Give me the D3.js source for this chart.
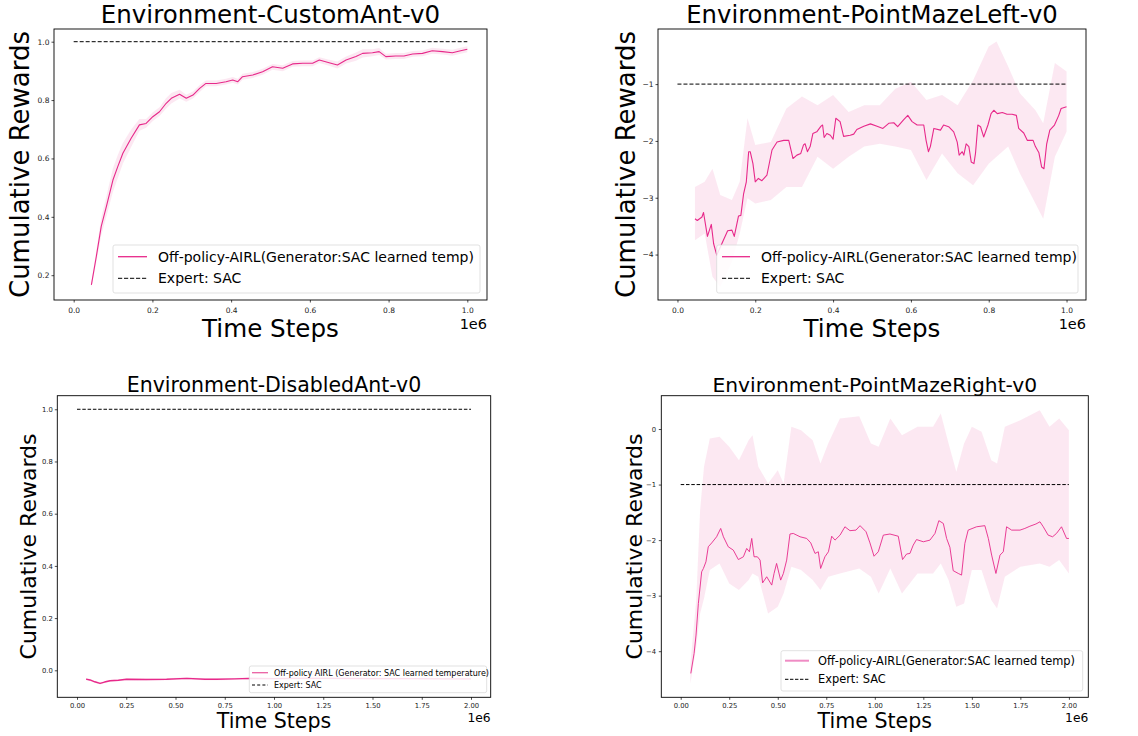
<!DOCTYPE html>
<html><head><meta charset="utf-8">
<script src="https://cdn.jsdelivr.net/npm/d3@7"></script>
<style>html,body{margin:0;padding:0;background:#fff}svg{display:block}text{font-family:"DejaVu Sans",sans-serif}</style>
</head><body><svg id="c" width="1138" height="736"></svg>
<script>
// ---------- data ----------
const titles = ["Environment-CustomAnt-v0","Environment-PointMazeLeft-v0","Environment-DisabledAnt-v0","Environment-PointMazeRight-v0"];
const legendLabelsShort = ["Off-policy-AIRL(Generator:SAC learned temp)","Expert: SAC"];
const legendLabelsLong = ["Off-policy AIRL (Generator: SAC learned temperature)","Expert: SAC"];
const xTicks1M = [0,0.2,0.4,0.6,0.8,1.0];
const xTicks2M = [0,0.25,0.5,0.75,1.0,1.25,1.5,1.75,2.0];
const yTicksAnt = [0.2,0.4,0.6,0.8,1.0];
const yTicksDis = [0.0,0.2,0.4,0.6,0.8,1.0];
const yTicksLeft = [-4,-3,-2,-1];
const yTicksRight = [-4,-3,-2,-1,0];
const expertAnt = 1.0, expertDis = 1.0, expertLeft = -1.0, expertRight = -1.0;

// CustomAnt (x in 1e6)
const antX = [0.045,0.0575,0.070,0.083,0.0997,0.112,0.125,0.146,0.167,0.184,0.201,0.218,0.235,0.248,0.269,0.286,0.303,0.320,0.336,0.362,0.387,0.404,0.417,0.429,0.455,0.480,0.505,0.531,0.556,0.582,0.607,0.624,0.649,0.670,0.692,0.717,0.734,0.759,0.776,0.793,0.818,0.839,0.861,0.886,0.911,0.937,0.962,0.983,1.0];
const antY = [0.167,0.264,0.367,0.435,0.526,0.572,0.618,0.669,0.715,0.720,0.743,0.760,0.789,0.806,0.820,0.806,0.817,0.840,0.857,0.857,0.863,0.869,0.863,0.880,0.886,0.897,0.914,0.909,0.924,0.926,0.926,0.937,0.928,0.920,0.937,0.949,0.960,0.962,0.966,0.949,0.951,0.951,0.958,0.960,0.969,0.966,0.962,0.969,0.974];
const antStd = [0.01,0.02,0.03,0.035,0.04,0.04,0.035,0.03,0.02,0.015,0.015,0.015,0.018,0.018,0.015,0.012,0.012,0.012,0.01,0.01,0.01,0.01,0.01,0.01,0.01,0.01,0.01,0.01,0.01,0.01,0.01,0.01,0.01,0.012,0.012,0.014,0.014,0.012,0.012,0.01,0.01,0.01,0.01,0.01,0.01,0.01,0.01,0.01,0.01];

// PointMazeLeft mean
const leftX = [0.045,0.051,0.063,0.067,0.077,0.087,0.093,0.101,0.110,0.118,0.129,0.140,0.146,0.157,0.163,0.170,0.177,0.183,0.187,0.194,0.200,0.208,0.217,0.230,0.243,0.256,0.273,0.286,0.297,0.307,0.317,0.324,0.328,0.334,0.341,0.348,0.358,0.369,0.373,0.377,0.384,0.393,0.400,0.407,0.418,0.427,0.444,0.453,0.461,0.479,0.496,0.513,0.528,0.543,0.556,0.566,0.581,0.592,0.603,0.616,0.633,0.639,0.645,0.650,0.659,0.676,0.684,0.697,0.710,0.719,0.724,0.732,0.736,0.742,0.749,0.755,0.762,0.766,0.772,0.779,0.787,0.798,0.806,0.813,0.822,0.835,0.847,0.860,0.871,0.877,0.890,0.899,0.914,0.920,0.929,0.936,0.942,0.949,0.957,0.969,0.980,0.986,1.0];
const leftY = [-3.37,-3.40,-3.34,-3.26,-3.68,-3.47,-3.81,-4.01,-3.87,-3.75,-3.58,-3.57,-3.68,-3.32,-3.31,-2.93,-2.72,-2.19,-2.19,-2.40,-2.72,-2.66,-2.70,-2.60,-2.16,-2.02,-1.99,-1.99,-2.31,-2.25,-2.22,-2.07,-2.05,-2.19,-2.10,-1.87,-1.84,-1.74,-1.72,-1.94,-1.87,-1.90,-1.97,-1.60,-1.66,-1.92,-1.90,-1.88,-1.80,-1.74,-1.70,-1.74,-1.78,-1.69,-1.68,-1.75,-1.63,-1.55,-1.66,-1.72,-1.72,-1.99,-2.19,-2.10,-1.78,-1.81,-1.72,-1.75,-1.84,-2.02,-2.25,-2.19,-2.25,-2.05,-2.10,-2.37,-2.40,-2.22,-1.72,-1.75,-1.93,-1.72,-1.52,-1.46,-1.52,-1.50,-1.53,-1.53,-1.55,-1.78,-1.86,-1.99,-1.99,-2.10,-2.21,-2.46,-2.49,-2.05,-1.81,-1.72,-1.55,-1.43,-1.40];
// PointMazeLeft band
const leftBandX = [0.045,0.07,0.09,0.11,0.14,0.16,0.18,0.20,0.24,0.28,0.32,0.36,0.40,0.44,0.48,0.52,0.56,0.60,0.64,0.68,0.72,0.76,0.80,0.82,0.85,0.88,0.92,0.94,0.97,1.0];
const leftUpper = [-2.81,-2.72,-2.49,-2.95,-3.04,-2.72,-1.60,-2.07,-2.02,-1.43,-1.22,-1.37,-1.19,-1.49,-1.37,-1.37,-1.08,-0.96,-1.28,-1.19,-1.37,-0.93,-0.34,-0.25,-0.69,-1.16,-1.46,-1.69,-0.63,-0.78];
const leftLower = [-3.75,-3.63,-4.39,-4.57,-4.13,-3.63,-3.01,-3.10,-3.04,-2.81,-2.81,-2.28,-2.49,-2.28,-2.10,-2.05,-2.10,-2.16,-2.69,-2.22,-2.57,-2.78,-2.40,-2.28,-2.10,-2.57,-3.10,-3.37,-2.28,-1.84];

// DisabledAnt
const disX = [0.046,0.066,0.090,0.117,0.140,0.168,0.210,0.252,0.350,0.455,0.557,0.650,0.709,0.800,0.878,1.0,1.1,1.3,1.5,1.7,1.9,2.0];
const disY = [-0.034,-0.037,-0.044,-0.050,-0.045,-0.040,-0.038,-0.034,-0.035,-0.034,-0.031,-0.034,-0.034,-0.033,-0.031,-0.032,-0.031,-0.031,-0.032,-0.032,-0.033,-0.033];
const disStd = [0.004,0.004,0.004,0.004,0.004,0.004,0.004,0.004,0.004,0.004,0.004,0.004,0.004,0.004,0.004,0.004,0.004,0.004,0.004,0.004,0.004,0.004];

// PointMazeRight mean
const rightX = [0.052,0.069,0.079,0.091,0.108,0.117,0.130,0.142,0.160,0.185,0.206,0.220,0.245,0.271,0.297,0.323,0.340,0.354,0.366,0.378,0.395,0.409,0.422,0.443,0.469,0.481,0.494,0.515,0.529,0.546,0.563,0.580,0.615,0.649,0.670,0.692,0.709,0.721,0.743,0.761,0.778,0.795,0.821,0.846,0.872,0.903,0.924,0.955,0.975,0.996,1.018,1.044,1.078,1.121,1.143,1.164,1.181,1.198,1.215,1.250,1.284,1.310,1.330,1.353,1.370,1.387,1.404,1.430,1.447,1.464,1.481,1.524,1.567,1.585,1.602,1.624,1.645,1.662,1.679,1.705,1.748,1.773,1.799,1.830,1.851,1.868,1.893,1.916,1.936,1.962,1.988,2.0];
const rightY = [-4.40,-4.04,-3.71,-3.14,-2.57,-2.51,-2.39,-2.12,-2.05,-1.94,-1.79,-1.94,-2.12,-2.18,-2.35,-2.30,-2.15,-2.21,-1.97,-2.30,-2.30,-2.36,-2.77,-2.66,-2.81,-2.60,-2.42,-2.72,-2.60,-2.36,-1.89,-1.88,-1.94,-1.97,-2.05,-2.24,-2.21,-2.51,-2.30,-2.21,-1.93,-2.00,-1.91,-1.76,-1.83,-1.82,-1.74,-1.85,-2.05,-2.29,-2.21,-1.91,-1.89,-1.93,-2.35,-2.25,-2.24,-2.09,-1.99,-2.03,-2.00,-1.88,-1.65,-1.70,-1.97,-2.13,-2.55,-2.60,-2.63,-2.06,-1.82,-1.76,-1.74,-1.97,-2.27,-2.60,-2.27,-2.21,-1.76,-1.82,-1.82,-1.79,-1.75,-1.71,-1.67,-1.76,-1.91,-1.94,-1.88,-1.76,-1.97,-1.97];
// PointMazeRight band
const rightBandX = [0.05,0.08,0.10,0.12,0.15,0.20,0.25,0.30,0.35,0.37,0.40,0.45,0.50,0.53,0.57,0.62,0.68,0.72,0.76,0.82,0.92,0.98,1.02,1.08,1.14,1.22,1.30,1.34,1.38,1.42,1.46,1.50,1.55,1.60,1.63,1.67,1.75,1.85,1.90,1.95,2.0];
const rightUpper = [-4.22,-3.08,-1.46,-0.68,-0.17,-0.14,-0.32,-0.56,-0.20,-0.11,-0.68,-0.98,-0.74,-0.98,0.04,-0.02,-0.20,-0.62,-0.26,0.19,0.23,-0.26,-0.32,0.19,-0.11,0.04,0.04,0.28,-0.26,-0.77,-0.26,0.04,-0.05,-0.56,-0.62,0.04,0.16,0.34,0.04,0.19,-0.02];
const rightLower = [-4.58,-3.92,-3.32,-3.05,-2.54,-2.42,-2.78,-2.90,-2.72,-2.60,-2.66,-3.32,-3.20,-2.96,-2.48,-2.54,-2.72,-2.90,-2.66,-2.60,-2.51,-2.66,-2.96,-2.51,-2.96,-2.60,-2.60,-2.42,-2.72,-3.20,-3.14,-2.54,-2.54,-3.08,-3.23,-2.66,-2.48,-2.42,-2.48,-2.36,-2.60];

// ---------- drawing ----------
const PINK = "#e7298a";
const svg = d3.select("#c");
const minus = s => s.replace("-", "\u2212");

function band(xs, lo, hi){ return xs.map((x,i)=>({x, lo:lo[i], hi:hi[i]})); }

const panels = [
  {title:titles[0], box:[54,487,29,300], xd:[-0.05,1.05], yd:[0.115,1.0435], xt:xTicks1M, yt:yTicksAnt,
   xf:d3.format(".1f"), yf:d3.format(".1f"), mean:antX.map((x,i)=>({x,y:antY[i]})),
   band:band(antX, antY.map((v,i)=>v-antStd[i]), antY.map((v,i)=>v+antStd[i])), expert:expertAnt, xmax:1.0,
   titleSize:24.5, titleY:23, ylabSize:26, ylabX:29, xlabSize:24.6, xlabY:337, offSize:14.5, offY:329,
   tickSize:7.5, xpad:5, ypad:2, lw:1.1, dash:"4,2",
   leg:{x0:113,x1:480,y0:245,y1:293, s0:118,s1:147, r1:256.7, r2:278.3, tx:158, fs:14, labels:legendLabelsShort, lineColor:PINK, dash:"4.2,1.8"}},
  {title:titles[1], box:[658,1086,29,300], xd:[-0.05,1.05], yd:[-4.8,-0.03], xt:xTicks1M, yt:yTicksLeft,
   xf:d3.format(".1f"), yf:v=>minus(d3.format("d")(v)), mean:leftX.map((x,i)=>({x,y:leftY[i]})),
   band:band(leftBandX,leftLower,leftUpper), expert:expertLeft, xmax:1.0,
   titleSize:24.3, titleY:23, ylabSize:26, ylabX:635, xlabSize:24.6, xlabY:337, offSize:14.5, offY:329,
   tickSize:7.5, xpad:5, ypad:2, lw:1.1, dash:"4,2",
   leg:{x0:716.7,x1:1078,y0:245,y1:293, s0:722,s1:750, r1:256.7, r2:278.3, tx:761, fs:14, labels:legendLabelsShort, lineColor:PINK, dash:"4.2,1.8"}},
  {title:titles[2], box:[57.3,490.7,395.7,697.3], xd:[-0.1,2.1], yd:[-0.1034,1.052], xt:xTicks2M, yt:yTicksDis,
   xf:d3.format(".2f"), yf:d3.format(".1f"), mean:disX.map((x,i)=>({x,y:disY[i]})),
   band:band(disX, disY.map((v,i)=>v-disStd[i]), disY.map((v,i)=>v+disStd[i])), expert:expertDis, xmax:2.0,
   titleSize:20.5, titleY:391.5, ylabSize:22, ylabX:36, xlabSize:20.6, xlabY:727.5, offSize:12.3, offY:721.7,
   tickSize:6.8, xpad:3, ypad:2, lw:1.4, dash:"3.5,1.8",
   leg:{x0:249.3,x1:486.7,y0:666,y1:692.7, s0:252,s1:268, r1:672.7, r2:685, tx:274, fs:8, labels:legendLabelsLong, lineColor:"#ea5fa3", dash:"3,2.2"}},
  {title:titles[3], box:[661.3,1088.3,395.7,697.3], xd:[-0.1,2.1], yd:[-4.83,0.6], xt:xTicks2M, yt:yTicksRight,
   xf:d3.format(".2f"), yf:v=>minus(d3.format("d")(v)), mean:rightX.map((x,i)=>({x,y:rightY[i]})),
   band:band(rightBandX,rightLower,rightUpper), expert:expertRight, xmax:2.0,
   titleSize:20.25, titleY:391.5, ylabSize:22, ylabX:641.7, xlabSize:20.6, xlabY:728, offSize:12.3, offY:721.7,
   tickSize:6.8, xpad:3, ypad:2.8, lw:0.9, dash:"3.5,1.8",
   leg:{x0:781,x1:1082.7,y0:650.7,y1:691, s0:785,s1:809, r1:660.7, r2:679.3, tx:818, fs:11.4, labels:legendLabelsShort, lineColor:"#ef8cc4", dash:"3.4,1.6"}}
];

panels.forEach((p, k) => {
  const [L,R,T,B] = p.box;
  const x = d3.scaleLinear().domain(p.xd).range([L,R]);
  const y = d3.scaleLinear().domain(p.yd).range([B,T]);
  const g = svg.append("g");
  const cid = "clip"+k;
  svg.append("defs").append("clipPath").attr("id",cid).append("rect")
    .attr("x",L).attr("y",T).attr("width",R-L).attr("height",B-T);
  const plot = g.append("g").attr("clip-path",`url(#${cid})`);

  plot.append("path").datum(p.band)
    .attr("d", d3.area().x(d=>x(d.x)).y0(d=>y(d.lo)).y1(d=>y(d.hi)).curve(d3.curveLinear))
    .attr("fill", PINK).attr("fill-opacity", 0.11).attr("stroke","none");
  plot.append("path").datum(p.mean)
    .attr("d", d3.line().x(d=>x(d.x)).y(d=>y(d.y)))
    .attr("fill","none").attr("stroke",PINK).attr("stroke-width",p.lw).attr("stroke-linejoin","round");
  plot.append("line").attr("x1",x(0)).attr("x2",x(p.xmax)).attr("y1",y(p.expert)).attr("y2",y(p.expert))
    .attr("stroke","#000").attr("stroke-width",1).attr("stroke-dasharray",p.dash);

  // axes
  const ax = g.append("g").attr("transform",`translate(0,${B})`)
    .call(d3.axisBottom(x).tickValues(p.xt).tickFormat(p.xf).tickSize(2.5).tickPadding(p.xpad));
  const ay = g.append("g").attr("transform",`translate(${L},0)`)
    .call(d3.axisLeft(y).tickValues(p.yt).tickFormat(p.yf).tickSize(2.5).tickPadding(p.ypad));
  [ax,ay].forEach(a=>{
    a.select(".domain").remove();
    a.selectAll("line").attr("stroke","#000").attr("stroke-width",0.7);
    a.selectAll("text").attr("font-size",p.tickSize).attr("fill","#222").attr("font-family","DejaVu Sans");
  });
  g.append("rect").attr("x",L).attr("y",T).attr("width",R-L).attr("height",B-T)
    .attr("fill","none").attr("stroke","#000").attr("stroke-width",0.9);

  // titles and labels
  const cx = (L+R)/2, cy = (T+B)/2;
  g.append("text").attr("x",cx).attr("y",p.titleY).attr("text-anchor","middle")
    .attr("font-size",p.titleSize).text(p.title);
  g.append("text").attr("transform",`translate(${p.ylabX},${cy}) rotate(-90)`).attr("text-anchor","middle")
    .attr("font-size",p.ylabSize).text("Cumulative Rewards");
  g.append("text").attr("x",cx).attr("y",p.xlabY).attr("text-anchor","middle")
    .attr("font-size",p.xlabSize).text("Time Steps");
  g.append("text").attr("x",R).attr("y",p.offY).attr("text-anchor","end")
    .attr("font-size",p.offSize).text("1e6");

  // legend
  const lg = p.leg;
  const lgg = g.append("g");
  lgg.append("rect").attr("x",lg.x0).attr("y",lg.y0).attr("width",lg.x1-lg.x0).attr("height",lg.y1-lg.y0)
    .attr("rx",2).attr("fill","#fff").attr("fill-opacity",0.85).attr("stroke","#d9d9d9").attr("stroke-width",0.8);
  lgg.append("line").attr("x1",lg.s0).attr("x2",lg.s1).attr("y1",lg.r1).attr("y2",lg.r1)
    .attr("stroke",lg.lineColor).attr("stroke-width",k===3?2:1.3);
  lgg.append("line").attr("x1",lg.s0).attr("x2",lg.s1).attr("y1",lg.r2).attr("y2",lg.r2)
    .attr("stroke","#000").attr("stroke-width",1).attr("stroke-dasharray",lg.dash);
  lgg.append("text").attr("x",lg.tx).attr("y",lg.r1).attr("dy","0.36em").attr("font-size",lg.fs).text(lg.labels[0]);
  lgg.append("text").attr("x",lg.tx).attr("y",lg.r2).attr("dy","0.36em").attr("font-size",lg.fs).text(lg.labels[1]);
});
</script></body></html>
